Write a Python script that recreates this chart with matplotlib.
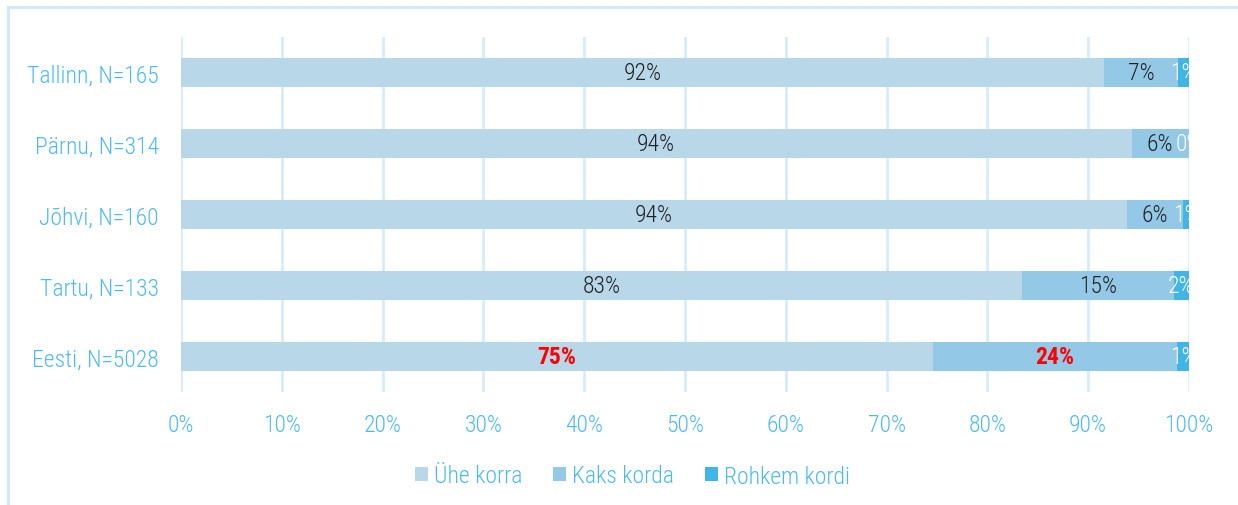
import matplotlib
matplotlib.use("Agg")
import matplotlib.pyplot as plt
from matplotlib.lines import Line2D
import numpy as np

# data
regions = ["Tallinn, N=165", "Pärnu, N=314", "Jõhvi, N=160", "Tartu, N=133", "Eesti, N=5028"]
once = [91.6, 94.3, 93.8, 83.4, 74.6]
twice = [7.3, 5.7, 5.6, 15.1, 24.2]
more = [1.1, 0.0, 0.6, 1.5, 1.2]
series_names = ["Ühe korra", "Kaks korda", "Rohkem kordi"]
colors = ["#b8d8ea", "#93c9e6", "#41b6e6"]
text_colors = ["#222222", "#222222", "#ffffff"]
tick_color = "#4db8f8"
grid_color = "#d6ecfb"

plt.rcParams["font.family"] = ["Roboto Condensed", "Roboto", "DejaVu Sans"]
plt.rcParams["font.weight"] = "light"

fig = plt.figure(figsize=(12.38, 5.06), dpi=100)
ax = fig.add_axes([181 / 1238, 1 - 393 / 506, (1189 - 181) / 1238, (393 - 38) / 506])

y = np.arange(len(regions))
left = np.zeros(len(regions))
for vals, name, col, tcol in zip([once, twice, more], series_names, colors, text_colors):
    vals = np.array(vals)
    ax.barh(y, vals, left=left, height=0.4, color=col, label=name, zorder=2)
    for i, v in enumerate(vals):
        c, w = tcol, "light"
        if regions[i].startswith("Eesti") and tcol != "#ffffff":
            c, w = "#ff0000", "bold"
        ax.text(left[i] + v / 2, y[i], "%.0f%%" % v, ha="center", va="center",
                fontsize=17, color=c, fontweight=w, clip_on=True, zorder=3)
    left += vals

ax.set_xlim(0, 100)
ax.set_ylim(len(regions) - 0.5, -0.5)
ax.set_yticks(y)
ax.set_yticklabels(regions)
ax.set_xticks(np.arange(0, 101, 10))
ax.set_xticklabels(["%d%%" % t for t in range(0, 101, 10)])
ax.tick_params(axis="both", length=0, labelsize=17, colors=tick_color)
ax.tick_params(axis="x", pad=15)
ax.tick_params(axis="y", pad=16)
for s in ax.spines.values():
    s.set_visible(False)
ax.grid(axis="x", color=grid_color, linewidth=2, zorder=0)
ax.set_axisbelow(True)

leg = fig.legend(loc="center", bbox_to_anchor=(0.511, 1 - 477 / 506), ncol=3, frameon=False,
                 fontsize=17, handlelength=0.55, handleheight=0.55, handletextpad=0.25,
                 columnspacing=1.3)
for t in leg.get_texts():
    t.set_color(tick_color)

# outer frame: only top and left edges are visible in the reference
fx, fy = 8 / 1238, 1 - 8 / 506
fig.add_artist(Line2D([fx, 1.0], [fy, fy], transform=fig.transFigure, color="#cfe8fa", linewidth=2))
fig.add_artist(Line2D([fx, fx], [fy, 0.0], transform=fig.transFigure, color="#cfe8fa", linewidth=2))

fig.savefig("out.png", dpi=100)
